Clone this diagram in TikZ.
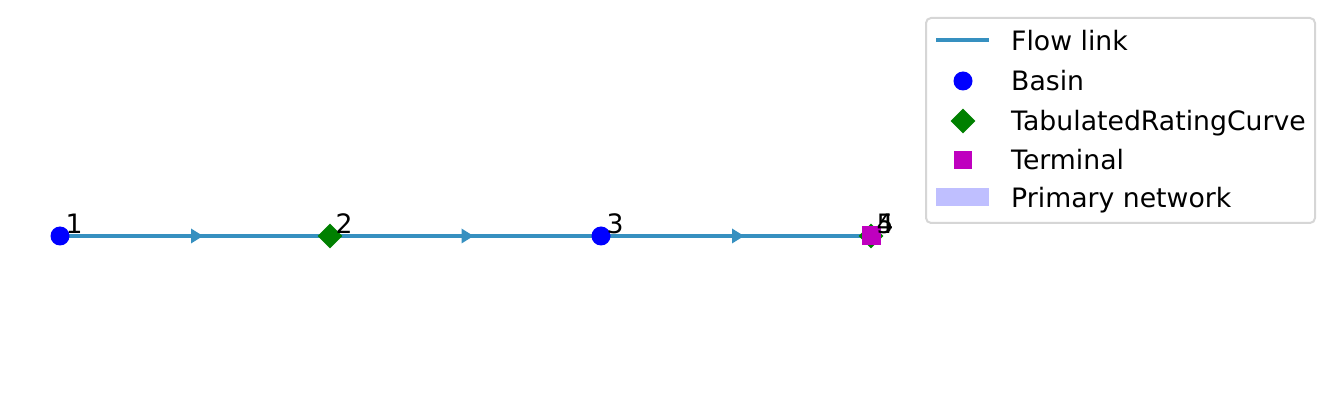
\documentclass[tikz,border=0pt]{standalone}
\usepackage{fontspec}
\setmainfont{DejaVu Sans}
\usetikzlibrary{decorations.markings,backgrounds,shapes.geometric}
\definecolor{linkc}{RGB}{54,144,192}
\definecolor{basinc}{RGB}{0,0,255}
\definecolor{trcc}{RGB}{0,128,0}
\definecolor{termc}{RGB}{191,0,191}
\definecolor{primc}{RGB}{191,191,255}
\definecolor{legc}{RGB}{214,214,214}
\begin{document}
\begin{tikzpicture}[x=1pt,y=-1pt,
  basin/.style={circle,fill=basinc,inner sep=0,minimum size=19},
  trc/.style={diamond,fill=trcc,inner sep=0,minimum size=25},
  term/.style={rectangle,fill=termc,inner sep=0,minimum size=19},
  lbl/.style={anchor=base west,inner sep=0,font=\fontsize{26.7}{30}\selectfont},
  flowlink/.style={linkc,line width=3.4,postaction={decorate},
    decoration={markings,mark=at position 0.5 with {\fill[linkc] (-4,-7.5) -- (8,0) -- (-4,7.5) -- cycle;}}},
]
\useasboundingbox (0,0) rectangle (1334,403);
\node[basin] (n1) at (60,236) {};
\node[trc] (n2) at (330,236) {};
\node[basin] (n3) at (601,236) {};
\node[trc] (n4) at (871,236) {};
\node[term] (n5) at (871,236) {};
\node[lbl] (l1) at (65.5,233.5) {1};
\node[lbl] (l2) at (335.5,233.5) {2};
\node[lbl] (l3) at (606.5,233.5) {3};
\node[lbl] (l4) at (876.5,233.5) {4};
\node[lbl] (l5) at (876.5,233.5) {5};
\begin{scope}[on background layer]
\draw[flowlink] (n1.center) -- (n2.center);
\draw[flowlink] (n2.center) -- (n3.center);
\draw[flowlink] (n3.center) -- (n4.center);
\end{scope}
% legend
\draw[legc,line width=2,rounded corners=5,fill=white] (926,18) rectangle (1315,223);
\coordinate (ka) at (936,40);
\coordinate (kb) at (989,40);
\draw[linkc,line width=3.4] (ka) -- (kb);
\node[basin] (kbasin) at (963,81) {};
\node[trc] (ktrc) at (963,121) {};
\node[term,minimum size=18] (kterm) at (963,160) {};
\node[rectangle,fill=primc,inner sep=0,minimum width=53,minimum height=18] (kprim) at (962.5,197) {};
\node[lbl] (t1) at (1011,50.5) {Flow link};
\node[lbl] (t2) at (1011,90.5) {Basin};
\node[lbl] (t3) at (1011,130.5) {TabulatedRatingCurve};
\node[lbl] (t4) at (1011,169.5) {Terminal};
\node[lbl] (t5) at (1011,207.5) {Primary network};
\end{tikzpicture}
\end{document}
